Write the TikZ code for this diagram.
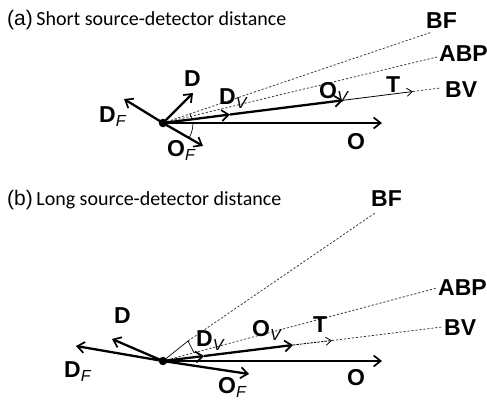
\documentclass[tikz,border=0pt]{standalone}
\usepackage{fontspec}
\setmainfont{Liberation Sans}
\newfontfamily\captionfont{Carlito}
\usetikzlibrary{arrows.meta}

% label text: bold letter with an italic subscript
\newcommand{\vlab}[2]{\fontsize{23}{23}\selectfont\textbf{#1}\ifx&#2&\else\raisebox{-0.35ex}{\fontsize{16}{16}\selectfont\itshape #2}\fi}

\tikzset{
  vec/.style={line width=2.3pt, -{Straight Barb[length=7pt,width=11pt,line width=1.7pt]}},
  thinvec/.style={line width=0.8pt, -{Straight Barb[length=5.5pt,width=8pt,line width=0.8pt]}},
  guide/.style={line width=0.75pt, black!80, dash pattern=on 2.2pt off 1.8pt},
  anglemark/.style={line width=0.7pt},
  lab/.style={inner sep=0pt, anchor=base west},
  dot/.style={circle, fill, inner sep=0pt, minimum size=8.5pt},
  ttl/.style={inner sep=0pt, anchor=base west}
}

\begin{document}
\begin{tikzpicture}[x=1pt,y=-1pt]
\useasboundingbox (0,0) rectangle (487,405);

% ---------------- (a) short source-detector distance ----------------
\node[ttl] (ta) at (7,25) {\fontsize{21}{21}\selectfont(a)\,\captionfont\fontsize{20}{20}\selectfont Short source-detector distance};

\coordinate (a0) at (163,123);
\coordinate (aDF) at (124,99);
\coordinate (aD) at (193,93);
\coordinate (aOF) at (203,146);
\coordinate (aDV) at (230,114.5);
\coordinate (aOV) at (343,100.3);
\coordinate (aT) at (413,91.5);
\coordinate (aBV) at (440,88);
\coordinate (aO) at (382,123);
\coordinate (aBF) at (432,32);
\coordinate (aABP) at (437,57);

\draw[guide] (a0) -- (aBF);
\draw[guide] (a0) -- (aABP);
\draw[guide] (aT) -- (aBV);
\draw[anglemark] (190,113.9) -- (192,119.3);
\draw[anglemark] (a0) ++(30,0) arc[start angle=0, end angle=30, radius=30];

\draw[vec] (a0) -- (aO);
\draw[vec] (a0) -- (aDV);
\draw[vec] (aDV) -- (aOV);
\draw[thinvec] (aOV) -- (aT);
\draw[vec] (a0) -- (aDF);
\draw[vec] (a0) -- (aD);
\draw[vec] (a0) -- (aOF);
\node[dot] (a0dot) at (a0) {};

\node[lab] (laBF) at (426,28.5) {\vlab{BF}{}};
\node[lab] (laABP) at (439,61.5) {\vlab{ABP}{}};
\node[lab] (laBV) at (445,97.5) {\vlab{BV}{}};
\node[lab] (laT) at (386,92.5) {\vlab{T}{}};
\node[lab] (laOV) at (319,98.5) {\vlab{O}{V}};
\node[lab] (laDV) at (219,104.5) {\vlab{D}{V}};
\node[lab] (laD) at (184,86.5) {\vlab{D}{}};
\node[lab] (laDF) at (99,122.5) {\vlab{D}{F}};
\node[lab] (laOF) at (167,156.5) {\vlab{O}{F}};
\node[lab] (laO) at (347,149.5) {\vlab{O}{}};

% ---------------- (b) long source-detector distance ----------------
\node[ttl] (tb) at (7,205) {\fontsize{21}{21}\selectfont(b)\,\captionfont\fontsize{20}{20}\selectfont Long source-detector distance};

\coordinate (b0) at (163,361);
\coordinate (bDF) at (76,346);
\coordinate (bD) at (112,339);
\coordinate (bOF) at (249,374);
\coordinate (bDV) at (204,356);
\coordinate (bOV) at (293,345);
\coordinate (bT) at (332,340.5);
\coordinate (bBV) at (442,327);
\coordinate (bO) at (382,361);
\coordinate (bBF) at (375,213);
\coordinate (bABP) at (437,288);
\coordinate (bP) at (188,341);
\coordinate (bQ) at (194,352.7);

\draw[guide] (bP) -- (bBF);
\draw[guide] (b0) -- (bABP);
\draw[guide] (bT) -- (bBV);
\draw[anglemark] (b0) -- (bP) -- (bQ);

\draw[vec] (b0) -- (bO);
\draw[vec] (b0) -- (bDV);
\draw[vec] (bDV) -- (bOV);
\draw[thinvec, dash pattern=on 2.5pt off 1pt] (bOV) -- (bT);
\draw[vec] (b0) -- (bDF);
\draw[vec] (b0) -- (bD);
\draw[vec] (b0) -- (bOF);
\node[dot] (b0dot) at (b0) {};

\node[lab] (lbBF) at (371,206.5) {\vlab{BF}{}};
\node[lab] (lbABP) at (438,295.5) {\vlab{ABP}{}};
\node[lab] (lbBV) at (444,335.5) {\vlab{BV}{}};
\node[lab] (lbT) at (313,332.5) {\vlab{T}{}};
\node[lab] (lbOV) at (252,336.5) {\vlab{O}{V}};
\node[lab] (lbDV) at (196,346.5) {\vlab{D}{V}};
\node[lab] (lbD) at (114,323.5) {\vlab{D}{}};
\node[lab] (lbDF) at (64,377.5) {\vlab{D}{F}};
\node[lab] (lbOF) at (218,393.5) {\vlab{O}{F}};
\node[lab] (lbO) at (347,385.5) {\vlab{O}{}};
\end{tikzpicture}
\end{document}
